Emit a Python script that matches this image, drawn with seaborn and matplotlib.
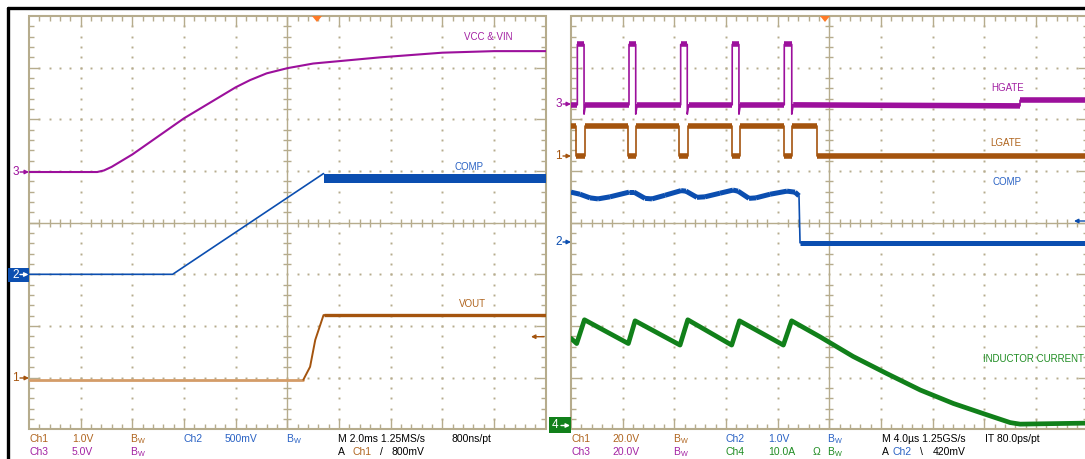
import matplotlib
matplotlib.use("Agg")
import matplotlib.pyplot as plt
import seaborn as sns
from matplotlib.collections import LineCollection
from matplotlib.patches import Polygon, Rectangle
from matplotlib.lines import Line2D
from matplotlib.transforms import IdentityTransform

W, H = 1085, 459
AW, AH = 516.7, 413.3          # graticule size in pixels (10 x 8 div)

# ── left capture: start-up, x in ms (2 ms/div), y in screen divisions ──
vcc_t = [0.0, 2.64, 2.90, 3.20, 4.0, 6.0, 8.0, 8.56, 9.2, 10.0, 11.0, 13.6, 16.0, 18.0, 20.0]
vcc_y = [4.98, 4.98, 5.01, 5.08, 5.32, 6.02, 6.62, 6.76, 6.89, 6.99, 7.08, 7.20, 7.29, 7.32, 7.32]

comp1_t = [0.0, 5.56, 11.40]
comp1_y = [3.00, 3.00, 4.95]
comp1_band_t = [11.40, 20.0]
comp1_band_lo = [4.77, 4.77]
comp1_band_hi = [4.95, 4.95]

vout_t = [0.0, 10.62, 10.88, 11.08, 11.40, 20.0]
vout_y = [0.96, 0.96, 1.21, 1.73, 2.21, 2.21]

# ── right capture: shutdown, x in us (4 us/div) ──
hgate_t = [0.00, 0.49, 0.49, 1.01, 1.01, 1.12,
           4.49, 4.49, 5.01, 5.01, 5.12,
           8.49, 8.49, 9.00, 9.00, 9.11,
           12.48, 12.48, 13.00, 13.00, 13.11,
           16.51, 16.51, 17.09, 17.09, 17.20,
           34.76, 34.76, 40.0]
hgate_y = [6.28, 6.28, 7.45, 7.45, 6.10, 6.28,
           6.28, 7.45, 7.45, 6.10, 6.28,
           6.28, 7.45, 7.45, 6.10, 6.28,
           6.28, 7.45, 7.45, 6.10, 6.28,
           6.28, 7.45, 7.45, 6.10, 6.28,
           6.26, 6.37, 6.37]

lgate_t = [0.00, 0.36, 0.36, 1.08, 1.08, 4.39, 4.39, 5.03, 5.03, 8.38, 8.38, 9.08,
           9.08, 12.44, 12.44, 13.08, 13.08, 16.47, 16.47, 17.12, 17.12, 19.02, 19.02, 40.0]
lgate_y = [5.87, 5.87, 5.29, 5.29, 5.87, 5.87, 5.29, 5.29, 5.87, 5.87, 5.29, 5.29,
           5.87, 5.87, 5.29, 5.29, 5.87, 5.87, 5.29, 5.29, 5.87, 5.87, 5.29, 5.29]

comp2_t = [0.0, 0.70, 1.47, 2.09, 3.02, 4.49, 4.88, 5.73, 6.27, 7.28, 8.52, 8.90, 9.75,
           10.37, 11.53, 12.54, 12.93, 13.78, 14.32, 15.41, 16.72, 17.34, 17.65, 17.73, 40.0]
comp2_y = [4.59, 4.55, 4.48, 4.46, 4.50, 4.59, 4.59, 4.47, 4.46, 4.53, 4.62, 4.61, 4.49,
           4.50, 4.57, 4.63, 4.61, 4.47, 4.48, 4.55, 4.61, 4.59, 4.52, 3.61, 3.61]

il_t = [0.0, 0.44, 1.04, 4.44, 4.96, 8.44, 9.04, 12.44, 13.04, 16.44, 17.08,
        19.28, 21.84, 24.44, 27.04, 29.60, 32.20, 34.00, 34.76, 40.0]
il_y = [1.76, 1.66, 2.12, 1.66, 2.10, 1.63, 2.12, 1.63, 2.10, 1.63, 2.10,
        1.79, 1.41, 1.08, 0.76, 0.50, 0.28, 0.13, 0.10, 0.12]

# scope colours
MAG = "#9c109c"
BRN = "#a4540e"
BRN_LT = "#d49c68"
BLU = "#0b4eb0"
GRN = "#11801a"
GRID = "#b6ac8d"
TRIG = "#ff7a26"
T_BRN, T_MAG, T_BLU, T_GRN = "#b0651f", "#a322a3", "#2a62c4", "#1f8c22"

sns.set_style("white")
plt.rcParams["font.family"] = ["Liberation Sans", "DejaVu Sans"]

fig = plt.figure(figsize=(W / 100, H / 100), dpi=100)
axL = fig.add_axes([29 / W, (H - 429.3) / H, AW / W, AH / H])
axR = fig.add_axes([571 / W, (H - 429.3) / H, AW / W, AH / H])


def graticule(ax):
    tr = ax.transAxes
    px, py = 1 / AW, 1 / AH
    segs = [[(0.5, 0), (0.5, 1)], [(0, 0.5), (1, 0.5)]]
    for k in range(1, 50):
        x = k / 50
        L = 10 if k % 5 == 0 else 5
        segs += [[(x, 0), (x, L * py)], [(x, 1), (x, 1 - L * py)]]
        if k % 5:
            segs.append([(x, 0.5 - 4 * py), (x, 0.5 + 4 * py)])
    for k in range(1, 40):
        y = k / 40
        L = 10 if k % 5 == 0 else 5
        segs += [[(0, y), (L * px, y)], [(1, y), (1 - L * px, y)]]
        if k % 5:
            segs.append([(0.5 - 4 * px, y), (0.5 + 4 * px, y)])
    ax.add_collection(LineCollection(segs, colors=GRID, lw=1.0, transform=tr, zorder=1))
    ax.add_patch(Rectangle((0, 0), 1, 1, transform=tr, fill=False, ec=GRID, lw=1.5,
                           zorder=1, clip_on=False))
    dx, dy = [], []
    for i in (1, 2, 3, 4, 6, 7, 8, 9):
        for k in range(1, 40):
            dx.append(i / 10)
            dy.append(k / 40)
    for j in (1, 2, 3, 5, 6, 7):
        for k in range(1, 50):
            dx.append(k / 50)
            dy.append(j / 8)
    ax.plot(dx, dy, ls="none", marker="s", ms=1.4, mew=0, color=GRID, transform=tr, zorder=1)


def trace(ax, t, y, color, lw, per_div, lw_flat=None):
    sns.lineplot(x=t, y=y, ax=ax, color=color, lw=lw, sort=False, estimator=None, zorder=3)
    if lw_flat:
        segs = [[(t[i], y[i]), (t[i + 1], y[i + 1])] for i in range(len(t) - 1)
                if t[i + 1] > t[i] and abs(y[i + 1] - y[i]) / ((t[i + 1] - t[i]) / per_div) < 1.0]
        ax.add_collection(LineCollection(segs, colors=color, lw=lw_flat, zorder=3, capstyle="butt"))


for ax, span in ((axL, 20), (axR, 40)):
    graticule(ax)
    ax.set_xlim(0, span)
    ax.set_ylim(0, 8)

# ── left traces ──
trace(axL, vcc_t, vcc_y, MAG, 1.5, 2)
trace(axL, comp1_t, comp1_y, BLU, 1.2, 2)
axL.fill_between(comp1_band_t, comp1_band_lo, comp1_band_hi, color=BLU, lw=0, zorder=3)
sns.lineplot(x=vout_t[:2], y=vout_y[:2], ax=axL, color=BRN_LT, lw=2.0, estimator=None, zorder=3)
trace(axL, vout_t[1:], vout_y[1:], BRN, 1.4, 2, lw_flat=2.4)

axL.text(17.77, 7.59, "VCC & VIN", color=T_MAG, fontsize=7, ha="center", va="center")
axL.text(17.03, 5.08, "COMP", color=T_BLU, fontsize=7, ha="center", va="center")
axL.text(17.15, 2.43, "VOUT", color=T_BRN, fontsize=7, ha="center", va="center")

# ── right traces ──
trace(axR, lgate_t, lgate_y, BRN, 1.2, 4, lw_flat=4.0)
trace(axR, hgate_t, hgate_y, MAG, 1.2, 4, lw_flat=4.0)
trace(axR, comp2_t, comp2_y, BLU, 1.2, 4, lw_flat=3.6)
trace(axR, il_t, il_y, GRN, 3.4, 4)

axR.text(33.82, 6.60, "HGATE", color=T_MAG, fontsize=7, ha="center", va="center")
axR.text(33.69, 5.55, "LGATE", color=T_BRN, fontsize=7, ha="center", va="center")
axR.text(33.74, 4.79, "COMP", color=T_BLU, fontsize=7, ha="center", va="center")
axR.text(35.77, 1.37, "INDUCTOR CURRENT", color=T_GRN, fontsize=7, ha="center", va="center")

for ax in (axL, axR):
    ax.axis("off")


# ── screen furniture (pixel positions) ──
def ftext(x, y, s, color, size=7.5, ha="left"):
    fig.text(x / W, 1 - y / H, s, color=color, fontsize=size, ha=ha, va="center", zorder=5)


def arrow(x0, x1, y, color, lw=1.0, ms=6):
    a = fig.add_artist(matplotlib.text.Annotation(
        "", xy=(x1, H - y), xytext=(x0, H - y), xycoords="figure pixels",
        textcoords="figure pixels", annotation_clip=False,
        arrowprops=dict(arrowstyle="-|>", color=color, lw=lw, mutation_scale=ms,
                        shrinkA=0, shrinkB=0)))
    a.set_zorder(5)


def box(x0, y0, x1, y1, color):
    fig.add_artist(Rectangle((x0, H - y1), x1 - x0, y1 - y0, transform=IdentityTransform(),
                             color=color, lw=0, zorder=4))


# outer black frame
fig.add_artist(Line2D([8, W], [H - 8, H - 8], transform=IdentityTransform(), color="black", lw=2.4))
fig.add_artist(Line2D([8, 8], [H - 8, 0], transform=IdentityTransform(), color="black", lw=2.4))

# channel ground markers
ftext(15.5, 172, "3", MAG, 8.5, "center")
arrow(20, 29, 172, MAG)
box(8.3, 267.7, 29, 281.7, BLU)
ftext(15.5, 274.5, "2", "white", 8.5, "center")
arrow(20, 28.5, 274.5, "white")
ftext(15.5, 378, "1", BRN, 8.5, "center")
arrow(20, 29, 378, BRN)

ftext(558.5, 104, "3", MAG, 8.5, "center")
arrow(563, 571, 104, MAG)
ftext(558.5, 156, "1", BRN, 8.5, "center")
arrow(563, 571, 156, BRN)
ftext(558.5, 242, "2", BLU, 8.5, "center")
arrow(563, 571, 242, BLU)
box(549, 417.3, 571, 432.7, GRN)
ftext(555, 425.5, "4", "white", 8.5, "center")
arrow(561, 570, 425.5, "white")

# trigger position and level markers
for xc in (317, 825):
    fig.add_artist(Polygon([(xc - 5, H - 16), (xc + 5, H - 16), (xc, H - 22)],
                           transform=IdentityTransform(), color=TRIG, lw=0))
arrow(544, 531, 336.7, BRN)
arrow(1086, 1074, 221, BLU)

# readout lines
BW = r"$\mathregular{B_W}$"
readout = [
    (29, 439, "Ch1", T_BRN), (72, 439, "1.0V", T_BRN), (130, 439, BW, T_BRN),
    (184, 439, "Ch2", T_BLU), (225, 439, "500mV", T_BLU), (286, 439, BW, T_BLU),
    (338, 439, "M 2.0ms 1.25MS/s", "black"), (452, 439, "800ns/pt", "black"),
    (29, 452, "Ch3", T_MAG), (72, 452, "5.0V", T_MAG), (130, 452, BW, T_MAG),
    (338, 452, "A", "black"), (352, 452, "Ch1", T_BRN), (380, 452, "/", "black"),
    (392, 452, "800mV", "black"),
    (571, 439, "Ch1", T_BRN), (612, 439, "20.0V", T_BRN), (673, 439, BW, T_BRN),
    (726, 439, "Ch2", T_BLU), (768, 439, "1.0V", T_BLU), (827, 439, BW, T_BLU),
    (882, 439, "M 4.0\u00b5s 1.25GS/s", "black"), (985, 439, "IT 80.0ps/pt", "black"),
    (571, 452, "Ch3", T_MAG), (612, 452, "20.0V", T_MAG), (673, 452, BW, T_MAG),
    (726, 452, "Ch4", T_GRN), (768, 452, "10.0A", T_GRN), (813, 452, "\u03a9", T_GRN),
    (827, 452, BW, T_GRN), (882, 452, "A", "black"), (893, 452, "Ch2", T_BLU),
    (920, 452, "\\", "black"), (933, 452, "420mV", "black"),
]
for x, y, s, c in readout:
    ftext(x, y, s, c)

fig.savefig("out.png", dpi=100)
